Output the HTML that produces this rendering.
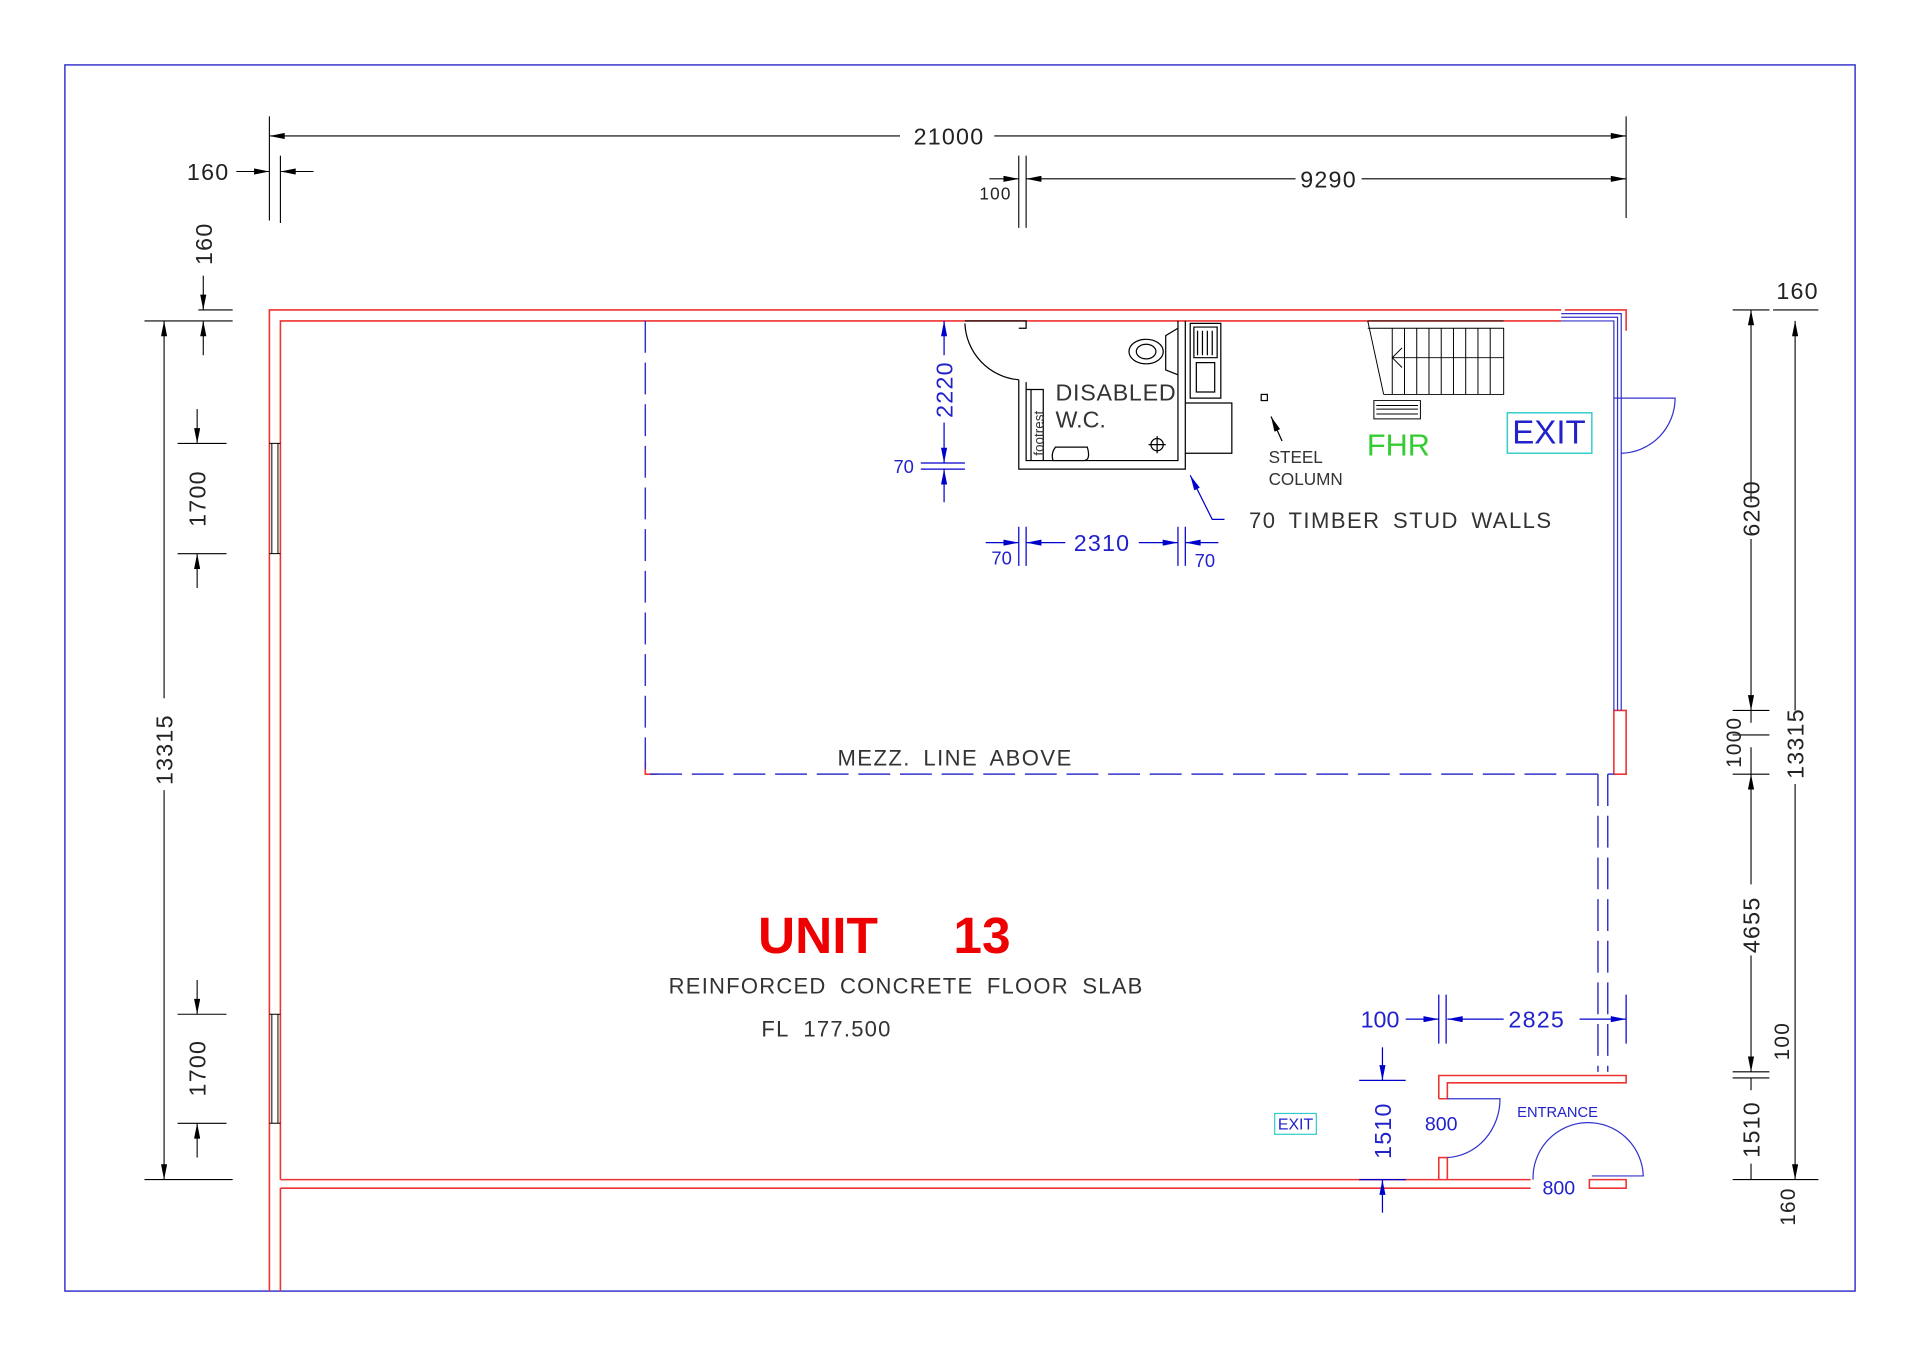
<!DOCTYPE html>
<html><head><meta charset="utf-8"><style>
html,body{margin:0;padding:0;background:#fff}
svg{display:block}
text{font-family:"Liberation Sans","DejaVu Sans",sans-serif}
</style></head><body>
<svg width="1920" height="1356" viewBox="0 0 1568 1107" preserveAspectRatio="none" xmlns="http://www.w3.org/2000/svg">
<defs>
<marker id="ak" viewBox="0 0 10 4" refX="10" refY="2" markerWidth="14" markerHeight="5" markerUnits="userSpaceOnUse" orient="auto"><path d="M0,0L10,2L0,4z" fill="#000"/></marker>
<marker id="ab" viewBox="0 0 10 4" refX="10" refY="2" markerWidth="14" markerHeight="5" markerUnits="userSpaceOnUse" orient="auto"><path d="M0,0L10,2L0,4z" fill="#00c"/></marker>
</defs>
<rect x="0" y="0" width="1568" height="1107" fill="#fff"/>
<rect x="53" y="53" width="1462" height="1001" fill="none" stroke="#33c" stroke-width="1.2"/>

<g fill="none" stroke="#e33" stroke-width="1.3">
<path d="M220,1054 V253 H1275"/>
<path d="M229,1054 V970 M229,963 V262 H1275"/>
<path d="M229,963 H1250 M229,970 H1250"/>
<path d="M1175,963 V945 H1182 V963 M1175,897 V878 H1328 V884 H1182 V897 H1175"/>
<path d="M1298,963 H1328 V970 H1298 Z"/>
<path d="M1318,580 H1328 V632 H1318 Z"/>
<path d="M1278,253 H1328 V270"/>
<path d="M527,622 V632 H537"/>
</g>
<g fill="none" stroke="#33c" stroke-width="1">
<path d="M1275,256 H1324 V580 M1275,259 H1321 V580 M1275,262 H1318 V580"/>
<path d="M1318,325 H1368 A45,45 0 0 1 1324,370"/>
<path d="M1182,897 H1225 A45,48 0 0 1 1182,945"/>
<path d="M1252,963 A44,44 0 0 1 1342,960 L1300,960"/>
</g>
<g fill="none" stroke="#000" stroke-width="0.8">
<path d="M222,362 V452 M227,362 V452 M220,362 H229 M220,452 H229"/>
<path d="M222,828 V917 M227,828 V917 M220,828 H229 M220,917 H229"/>
</g>
<g fill="none" stroke="#33c" stroke-width="1.2" stroke-dasharray="26,8">
<path d="M527,262 V632 H1318"/>
<path d="M1305,632 V875 M1313,632 V875"/>
</g>

<g fill="none" stroke="#000" stroke-width="0.9">
<path d="M220,95 V180 M1328,95 V178 M229,127 V182 M832,127 V186 M838,127 V186"/>
<path d="M735,111 H220" marker-end="url(#ak)"/><path d="M812,111 H1328" marker-end="url(#ak)"/>
<path d="M1058,146 H838" marker-end="url(#ak)"/><path d="M1112,146 H1328" marker-end="url(#ak)"/>
<path d="M193,140 H220" marker-end="url(#ak)"/><path d="M256,140 H229" marker-end="url(#ak)"/>
<path d="M808,146 H832" marker-end="url(#ak)"/>
<path d="M118,262 H190 M162,253 H190 M118,963 H190 M145,362 H185 M145,452 H185 M145,828 H185 M145,917 H185"/>
<path d="M134,570 V262" marker-end="url(#ak)"/><path d="M134,645 V963" marker-end="url(#ak)"/>
<path d="M166,225 V253" marker-end="url(#ak)"/><path d="M166,290 V262" marker-end="url(#ak)"/>
<path d="M161,334 V362" marker-end="url(#ak)"/><path d="M161,480 V452" marker-end="url(#ak)"/>
<path d="M161,800 V828" marker-end="url(#ak)"/><path d="M161,945 V917" marker-end="url(#ak)"/>
<path d="M1448,253 H1485 M1415,253 H1445 M1415,580 H1445 M1415,600 H1445 M1415,632 H1445 M1415,875 H1445 M1415,880 H1445 M1415,963 H1485"/>
<path d="M1430,410 V253" marker-end="url(#ak)"/><path d="M1430,440 V580" marker-end="url(#ak)"/>
<path d="M1466,580 V262" marker-end="url(#ak)"/><path d="M1466,640 V963" marker-end="url(#ak)"/>
<path d="M1430,722 V632" marker-end="url(#ak)"/><path d="M1430,780 V875" marker-end="url(#ak)"/>
<path d="M1430,610 V632 M1430,590 V580"/>
<path d="M1430,890 V880 M1430,950 V963"/>
</g>
<g font-size="19" fill="#222" text-anchor="middle" letter-spacing="1">
<text x="775" y="118">21000</text>
<text x="1085" y="153">9290</text>
<text x="170" y="147">160</text>
<text x="813" y="163" font-size="14">100</text>
<text x="1468" y="244">160</text>
<text transform="translate(173,199) rotate(-90)">160</text>
<text transform="translate(141,612) rotate(-90)">13315</text>
<text transform="translate(168,407) rotate(-90)">1700</text>
<text transform="translate(168,872) rotate(-90)">1700</text>
<text transform="translate(1437,415) rotate(-90)">6200</text>
<text transform="translate(1473,607) rotate(-90)">13315</text>
<text transform="translate(1422,606) rotate(-90)" font-size="17">1000</text>
<text transform="translate(1437,755) rotate(-90)">4655</text>
<text transform="translate(1461,850) rotate(-90)" font-size="17">100</text>
<text transform="translate(1437,922) rotate(-90)">1510</text>
<text transform="translate(1466,985) rotate(-90)" font-size="17">160</text>
</g>

<g fill="none" stroke="#000" stroke-width="1">
<path d="M788,262 H838 V268 H832 M832,310 V383 H968 V262 M838,312 V376 H962 V262"/>
<path d="M788,264 A48,48 0 0 0 832,310"/>
<path d="M838,318 H852 V376 M842,318 V376"/>
<path d="M862,365 H888 Q891,376 885,376 H860 Q858,370 862,365 Z"/>
<ellipse cx="936" cy="287" rx="14" ry="10"/><ellipse cx="936" cy="287" rx="8" ry="6"/>
<path d="M962,268 L952,274 V302 L962,306"/>
<circle cx="945" cy="363" r="5"/><path d="M938,363 H952 M945,356 V370"/>
<path d="M972,264 H997 V325 H972 Z M975,267 H994 V292 H975 Z M977,296 H992 V320 H977 Z"/>
<path d="M978,270 V290 M982,270 V290 M986,270 V290 M990,270 V290"/>
<path d="M968,329 H1006 V370 H968"/>
<rect x="1030" y="322" width="5" height="5"/>
<path d="M1047,360 L1038,340" marker-end="url(#ak)"/>
</g>
<g fill="none" stroke="#00c" stroke-width="1">
<path d="M1000,424 H990 L972,388" marker-end="url(#ab)"/>
<path d="M771,290 V262" marker-end="url(#ab)"/><path d="M771,345 V378" marker-end="url(#ab)"/>
<path d="M752,378 H788 M752,383 H788"/><path d="M771,410 V383" marker-end="url(#ab)"/>
<path d="M838,430 V462 M832,430 V462 M962,430 V462 M968,430 V462 M805,443 H832" marker-end="url(#ab)"/>
<path d="M870,443 H838" marker-end="url(#ab)"/><path d="M930,443 H962" marker-end="url(#ab)"/>
<path d="M995,443 H968" marker-end="url(#ab)"/>
<path d="M1148,832 H1175" marker-end="url(#ab)"/><path d="M1228,832 H1182" marker-end="url(#ab)"/>
<path d="M1175,812 V852 M1181,812 V852 M1328,812 V852"/><path d="M1290,832 H1328" marker-end="url(#ab)"/>
<path d="M1110,882 H1148 M1110,963 H1148"/>
<path d="M1129,855 V882" marker-end="url(#ab)"/><path d="M1129,990 V963" marker-end="url(#ab)"/>
</g>
<g font-size="19" fill="#333" text-anchor="start">
<text x="862" y="327" letter-spacing="0.6">DISABLED</text>
<text x="862" y="349">W.C.</text>
<text transform="translate(852,372) rotate(-90)" font-size="11">footrest</text>
<text x="1036" y="378" font-size="14">STEEL</text>
<text x="1036" y="396" font-size="14">COLUMN</text>
<text x="1020" y="431" font-size="18" letter-spacing="1.2" word-spacing="4">70 TIMBER STUD WALLS</text>
</g>
<g font-size="19" fill="#22c" text-anchor="middle">
<text transform="translate(778,318) rotate(-90)" letter-spacing="1">2220</text>
<text x="738" y="386" font-size="15">70</text>
<text x="900" y="450" letter-spacing="1">2310</text>
<text x="818" y="461" font-size="15">70</text>
<text x="984" y="463" font-size="15">70</text>
<text x="1127" y="839">100</text>
<text x="1255" y="839" letter-spacing="1">2825</text>
<text transform="translate(1136,923) rotate(-90)" letter-spacing="1">1510</text>
<text x="1177" y="923" font-size="16">800</text>
<text x="1273" y="975" font-size="16">800</text>
<text x="1272" y="912" font-size="12">ENTRANCE</text>
<text x="1265" y="362" font-size="27">EXIT</text>
<text x="1058" y="922" font-size="13">EXIT</text>
</g>
<rect x="1231" y="337" width="69" height="33" fill="none" stroke="#3cc" stroke-width="1.2"/>
<rect x="1041" y="909" width="34" height="17" fill="none" stroke="#3cc" stroke-width="1"/>

<g fill="none" stroke="#000" stroke-width="0.8">
<path d="M1117,262 H1228 M1117,268 H1228 V322 H1130 M1130,322 L1117,262"/>
<path d="M1137,268 V322 M1147,268 V322 M1157,268 V322 M1167,268 V322 M1177,268 V322 M1187,268 V322 M1197,268 V322 M1207,268 V322 M1217,268 V322"/>
<path d="M1228,292 H1137 M1145,284 L1137,292 L1145,300"/>
<path d="M1122,327 H1160 V342 H1122 Z M1124,331 H1158 M1124,334 H1158 M1124,338 H1158"/>
</g>
<text x="1142" y="372" font-size="25" fill="#3c3" text-anchor="middle">FHR</text>

<text x="780" y="625" font-size="18" fill="#333" text-anchor="middle" letter-spacing="1.2" word-spacing="4">MEZZ. LINE ABOVE</text>
<text x="668" y="778" font-size="42" font-weight="bold" fill="#e00" text-anchor="middle">UNIT</text>
<text x="802" y="778" font-size="42" font-weight="bold" fill="#e00" text-anchor="middle">13</text>
<text x="740" y="811" font-size="18" fill="#333" text-anchor="middle" letter-spacing="1" word-spacing="5">REINFORCED CONCRETE FLOOR SLAB</text>
<text x="675" y="846" font-size="18" fill="#333" text-anchor="middle" letter-spacing="1" word-spacing="6">FL 177.500</text>
</svg>
</body></html>
